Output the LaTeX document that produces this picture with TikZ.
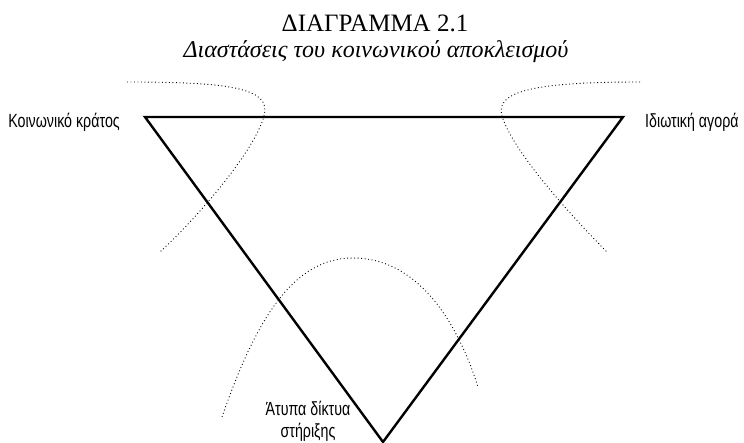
\documentclass[tikz,border=0pt]{standalone}
\usepackage{fontspec}
\setmainfont{Liberation Serif}
\newfontfamily\labelfont[FakeStretch=0.75]{Liberation Sans}
\usetikzlibrary{positioning}

\begin{document}
\begin{tikzpicture}[x=1pt, y=-1pt,
        side/.style={line width=2.4pt, line join=miter},
        zone/.style={line width=0.9pt, dash pattern=on 0.9pt off 2.6pt},
        dim/.style={font=\labelfont\fontsize{19}{22}\selectfont, inner sep=0pt}]
        \useasboundingbox (0,0) rectangle (744,443);

        \node[inner sep=0pt, anchor=base, font=\fontsize{25}{30}\selectfont] (title) at (375,32) {ΔΙΑΓΡΑΜΜΑ 2.1};
        \node[inner sep=0pt, anchor=base, font=\itshape\fontsize{24}{29}\selectfont] (subtitle) at (376,58) {Διαστάσεις του κοινωνικού αποκλεισμού};

        \coordinate (kratos) at (145,117);
        \coordinate (agora)  at (623,117);
        \coordinate (diktya) at (383,442);

        \node[dim, anchor=base east] (lkratos) at (120,128) {Κοινωνικό κράτος};
        \node[dim, anchor=base west] (lagora)  at (645,128) {Ιδιωτική αγορά};
        \node[dim, align=center, anchor=north] (ldiktya) at (308,401) {Άτυπα δίκτυα\\στήριξης};

        \draw[side] (kratos) -- (agora) -- (diktya) -- cycle;

        \draw[zone] (127,82) .. controls (230,82) and (272,88) .. (264,116)
                             .. controls (255,150) and (200,215) .. (160,252);
        \draw[zone] (640,82) .. controls (540,82) and (494,90) .. (502,116)
                             .. controls (512,150) and (570,215) .. (607,252);
        \draw[zone] (222,417) .. controls (255,322) and (292,258) .. (353,258)
                              .. controls (416,258) and (456,318) .. (478,387);
\end{tikzpicture}
\end{document}
